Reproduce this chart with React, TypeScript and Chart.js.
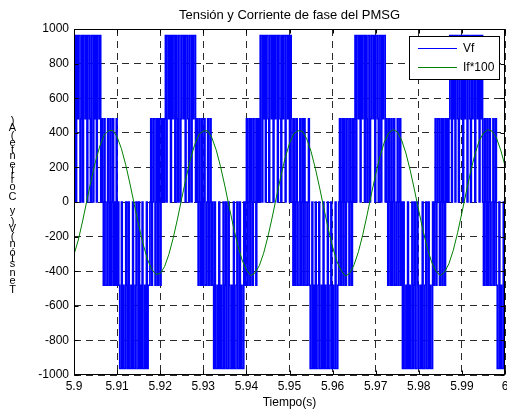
import React, { useEffect, useRef } from "react";
import { Chart, registerables } from "chart.js";

Chart.register(...registerables);

// ---- axes / labels ----
const xTicks = [5.9, 5.91, 5.92, 5.93, 5.94, 5.95, 5.96, 5.97, 5.98, 5.99, 6.0];
const yTicks = [-1000, -800, -600, -400, -200, 0, 200, 400, 600, 800, 1000];
const titleText = "Tensión y Corriente de fase del PMSG";
const xLabel = "Tiempo(s)";
const yLabel = "Tensión(V) y Corriente(A)";
const legendLabels = ["Vf", "If*100"];

// ---- Vf: phase voltage, sampled every 0.2 ms from t = 5.9 s ----
const vfStart = 5.9;
const vfStep = 0.0002;
const vfValues = [
  962,962,0,962,481,962,962,0,481,962,0,962,962,481,962,0,962,962,481,0,962,962,0,962,481,962,0,962,962,481,962,0,
  481,0,-481,481,0,-481,-481,481,0,-481,481,-481,0,481,-481,0,-481,481,-481,
  0,-481,
  -962,-962,0,-962,-481,-962,-962,0,-481,-962,0,-962,-962,-481,-962,0,-962,-962,-481,0,-962,-962,0,-962,-481,-962,0,-962,-962,-481,-962,0,-962,-481,
  -481,0,481,-481,0,481,481,-481,0,481,-481,481,0,-481,481,0,
  481,0,481,
  962,0,962,962,481,962,0,962,481,962,962,0,962,481,0,962,962,0,481,962,962,481,962,0,962,962,481,0,962,962,0,962,481,962,962,0,481,
  0,-481,481,0,-481,481,-481,0,481,-481,-481,0,481,-481,0,481,-481,0,-481,
  -962,0,-962,-962,-481,-962,0,-962,-481,-962,-962,0,-962,-481,0,-962,-962,0,-481,-962,-962,-481,-962,0,-962,-962,-481,0,-962,-962,0,-962,-481,-962,-962,0,-481,
  0,481,-481,0,481,-481,481,0,-481,481,481,0,-481,481,0,
  481,0,
  962,962,0,962,481,962,0,962,962,481,0,962,962,481,962,0,962,481,962,962,0,962,962,481,0,962,481,962,962,0,962,962,481,962,0,962,481,
  0,-481,481,-481,0,481,-481,-481,0,481,-481,0,481,-481,481,0,-481,-481,0,481,
  -481,
  -962,-962,0,-962,-481,-962,0,-962,-962,-481,0,-962,-962,-481,-962,0,-962,-481,-962,-962,0,-962,-962,-481,0,-962,-481,-962,-962,0,-962,-962,-481,
  0,481,-481,0,481,-481,481,0,-481,481,481,0,-481,481,0,-481,481,
  0,481,
  962,0,962,962,481,962,0,962,481,962,962,0,962,481,0,962,962,0,481,962,962,481,962,0,962,962,481,0,962,962,0,962,481,962,962,0,481,
  0,-481,481,0,-481,481,-481,0,481,-481,-481,0,481,-481,0,481,-481,0,
  -962,0,-962,-962,-481,-962,0,-962,-481,-962,-962,0,-962,-481,0,-962,-962,0,-481,-962,-962,-481,-962,0,-962,-962,-481,0,-962,-962,0,-962,-481,-962,-962,0,
  -481,0,481,-481,0,481,481,-481,0,481,-481,481,0,-481,481,0,
  481,0,481,
  962,962,0,962,481,962,0,962,962,481,0,962,962,481,962,0,962,481,962,962,0,962,962,481,0,962,481,962,962,0,962,962,481,962,0,962,481,962,
  0,-481,481,0,-481,481,-481,0,481,-481,-481,0,481,-481,0,481,-481,
  -962,-962,0,-962,-481,-962,-962,0,-481,-962,
];

// ---- If*100: phase current x100, sampled every 1 ms from t = 5.9 s ----
const ifStart = 5.9;
const ifStep = 0.001;
const ifValues = [
  -303,-220,-110,9,128,236,324,387,412,414,
  377,308,215,104,-15,-133,-240,-328,-389,-418,
  -413,-374,-304,-210,-99,21,139,245,332,391,
  410,412,371,300,205,93,-27,-145,-250,-335,
  -393,-425,-410,-368,-296,-200,-87,33,150,255,
  339,395,412,409,365,292,194,81,-39,-156,
  -260,-343,-397,-428,-412,-362,-287,-189,-75,45,
  161,264,346,399,418,406,359,283,184,69,
  -51,-167,-269,-349,-401,-425,-405,-356,-279,-178,
  -63,57,172,274,353,398,418,410,372,300,
  210,
];

const FONT = '"Liberation Sans", Arial, sans-serif';
const BLUE = "#0000ff";
const GREEN = "#008000";
const GRID = "#2a2a2a";

const decorPlugin = {
  id: "decor",
  afterDatasetsDraw(chart: any) {
    const { ctx, chartArea: a, scales } = chart;
    const L = Math.floor(a.left) + 0.5;
    const R = Math.floor(a.right) - 0.5;
    const T = Math.floor(a.top) + 0.5;
    const B = Math.floor(a.bottom) - 0.5;
    ctx.save();
    ctx.strokeStyle = "#000";
    ctx.lineWidth = 1;
    ctx.setLineDash([]);
    ctx.strokeRect(L, T, R - L, B - T);
    // inward ticks
    ctx.beginPath();
    xTicks.forEach((v) => {
      const x = Math.round(scales.x.getPixelForValue(v)) + 0.5;
      ctx.moveTo(x, B); ctx.lineTo(x, B - 4);
      ctx.moveTo(x, T); ctx.lineTo(x, T + 4);
    });
    yTicks.forEach((v) => {
      const y = Math.round(scales.y.getPixelForValue(v)) + 0.5;
      ctx.moveTo(L, y); ctx.lineTo(L + 4, y);
      ctx.moveTo(R, y); ctx.lineTo(R - 4, y);
    });
    ctx.stroke();

    // legend
    const lx = 409.5, ly = 36.5, lw = 90, lh = 43;
    ctx.fillStyle = "#fff";
    ctx.fillRect(lx, ly, lw, lh);
    ctx.strokeRect(lx, ly, lw, lh);
    const colors = [BLUE, GREEN];
    const rows = [48, 67];
    ctx.font = `12px ${FONT}`;
    ctx.textAlign = "left";
    ctx.textBaseline = "middle";
    legendLabels.forEach((lab, i) => {
      ctx.strokeStyle = colors[i];
      ctx.beginPath();
      ctx.moveTo(418, rows[i] + 0.5);
      ctx.lineTo(457, rows[i] + 0.5);
      ctx.stroke();
      ctx.fillStyle = "#000";
      ctx.fillText(lab, 463, rows[i] + 1);
    });

    // title
    ctx.fillStyle = "#000";
    ctx.textAlign = "center";
    ctx.font = `13px ${FONT}`;
    ctx.fillText(titleText, (a.left + a.right) / 2, 15);
    // x label
    ctx.font = `12px ${FONT}`;
    ctx.fillText(xLabel, (a.left + a.right) / 2, 403);
    // y label (stacked glyphs, as in the source figure)
    ctx.font = `11px ${FONT}`;
    const chars = Array.from(yLabel);
    const widths = chars.map((c) => ctx.measureText(c).width);
    const total = widths.reduce((s, w) => s + w, 0);
    const k = (295 - 118) / total;
    let y = 295;
    chars.forEach((c, i) => {
      const adv = widths[i] * k;
      ctx.fillText(c, 12.5, y - adv / 2);
      y -= adv;
    });
    ctx.restore();
  },
};

export default function App() {
  const ref = useRef<HTMLCanvasElement>(null);
  useEffect(() => {
    const vfPoints = vfValues.map((v, i) => ({ x: vfStart + i * vfStep, y: v }));
    const ifPoints = ifValues.map((v, i) => ({ x: ifStart + i * ifStep, y: v }));
    const chart = new Chart(ref.current as HTMLCanvasElement, {
      type: "line",
      data: {
        datasets: [
          {
            label: legendLabels[0],
            data: vfPoints,
            borderColor: BLUE,
            backgroundColor: BLUE,
            borderWidth: 1.6,
            pointRadius: 0,
            stepped: true,
            fill: false,
            order: 2,
          },
          {
            label: legendLabels[1],
            data: ifPoints,
            borderColor: GREEN,
            backgroundColor: GREEN,
            borderWidth: 1,
            pointRadius: 0,
            tension: 0,
            fill: false,
            order: 1,
          },
        ],
      },
      options: {
        responsive: false,
        animation: false,
        devicePixelRatio: 1,
        parsing: false,
        events: [],
        layout: { padding: { top: 29, right: 2, left: 0, bottom: 0 } },
        plugins: {
          legend: { display: false },
          title: { display: false },
          tooltip: { enabled: false },
        },
        scales: {
          x: {
            type: "linear",
            min: 5.9,
            max: 6.0,
            afterBuildTicks: (s: any) => {
              s.ticks = xTicks.map((value) => ({ value }));
            },
            afterFit: (s: any) => {
              s.height = 39;
              s.paddingLeft = 0;
              s.paddingRight = 0;
            },
            ticks: {
              autoSkip: false,
              maxRotation: 0,
              padding: 4,
              color: "#000",
              font: { family: FONT, size: 12 },
              callback: (v: any) => String(Math.round(Number(v) * 100) / 100),
            },
            grid: { color: GRID, lineWidth: 1, drawTicks: false },
            border: { display: false, dash: [7, 5] },
          },
          y: {
            type: "linear",
            min: -1000,
            max: 1000,
            afterBuildTicks: (s: any) => {
              s.ticks = yTicks.map((value) => ({ value }));
            },
            afterFit: (s: any) => {
              s.width = 74;
            },
            ticks: {
              autoSkip: false,
              padding: 5,
              color: "#000",
              font: { family: FONT, size: 12 },
              callback: (v: any) => String(v),
            },
            grid: { color: GRID, lineWidth: 1, drawTicks: false },
            border: { display: false, dash: [7, 5] },
          },
        },
      },
      plugins: [decorPlugin],
    } as any);
    return () => chart.destroy();
  }, []);
  return (
    <div style={{ position: "absolute", left: 0, top: 0, width: 507, height: 414, background: "#fff" }}>
      <canvas ref={ref} width={507} height={414} style={{ display: "block", width: 507, height: 414 }} />
    </div>
  );
}
